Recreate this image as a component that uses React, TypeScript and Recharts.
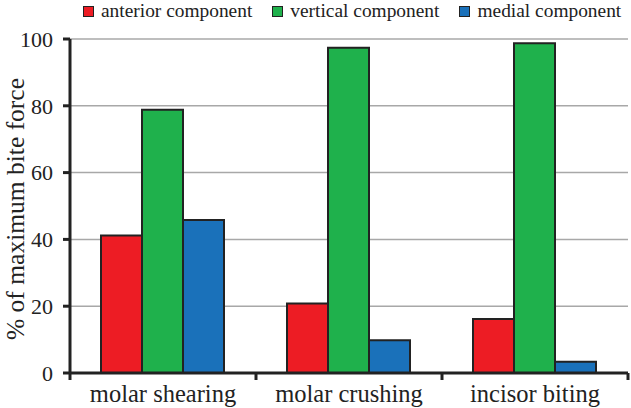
import { Bar, BarChart, CartesianGrid, XAxis, YAxis } from 'recharts';

const categories = ['molar shearing', 'molar crushing', 'incisor biting'];
const anterior = [41.2, 20.8, 16.2];
const vertical = [78.8, 97.4, 98.7];
const medial = [45.8, 9.8, 3.4];
const yTicks = [0, 20, 40, 60, 80, 100];

const SERIES = [
  { key: 'anterior', name: 'anterior component', color: '#ed1c24' },
  { key: 'vertical', name: 'vertical component', color: '#1fb14c' },
  { key: 'medial', name: 'medial component', color: '#1a71ba' },
];

const data = categories.map((name, i) => ({
  name,
  anterior: anterior[i],
  vertical: vertical[i],
  medial: medial[i],
}));

const WIDTH = 631;
const HEIGHT = 408;
const LEFT = 70;
const RIGHT = 3;
const FONT = 'Liberation Serif';
const INK = '#222';
const BAND = (WIDTH - LEFT - RIGHT) / categories.length;

const CategoryTick = (props: any) => {
  const { x, y, payload, index } = props;
  const isLast = index === categories.length - 1;
  return (
    <g>
      <line x1={x - BAND / 2} x2={x - BAND / 2} y1={y} y2={y + 7} stroke={INK} strokeWidth={3} />
      {isLast && (
        <line x1={x + BAND / 2} x2={x + BAND / 2} y1={y} y2={y + 7} stroke={INK} strokeWidth={3} />
      )}
      <text x={x} y={y + 29} textAnchor="middle" fontFamily={FONT} fontSize={24.5} fill={INK}>
        {payload.value}
      </text>
    </g>
  );
};

const YLabel = (props: any) => {
  const { viewBox } = props;
  const cx = 24;
  const cy = viewBox.y + viewBox.height / 2 + 3;
  return (
    <text
      x={cx}
      y={cy}
      transform={`rotate(-90 ${cx} ${cy})`}
      textAnchor="middle"
      fontFamily={FONT}
      fontSize={25.5}
      fill={INK}
    >
      % of maximum bite force
    </text>
  );
};

function LegendRow() {
  return (
    <div
      style={{
        position: 'absolute',
        top: 0,
        left: 83,
        height: 22,
        display: 'flex',
        alignItems: 'center',
        fontFamily: FONT,
        fontSize: 19.4,
        color: INK,
        whiteSpace: 'nowrap',
      }}
    >
      {SERIES.map((s) => (
        <div key={s.key} style={{ display: 'flex', alignItems: 'center', marginRight: 20 }}>
          <div
            style={{
              width: 9,
              height: 9,
              background: s.color,
              border: `1.5px solid ${INK}`,
              marginRight: 7,
            }}
          />
          <span>{s.name}</span>
        </div>
      ))}
    </div>
  );
}

export default function App() {
  return (
    <div style={{ position: 'absolute', left: 0, top: 0, width: WIDTH, height: HEIGHT, background: '#fff' }}>
      <LegendRow />
      <BarChart
        width={WIDTH}
        height={HEIGHT}
        data={data}
        margin={{ top: 39, right: RIGHT, left: 0, bottom: 0 }}
        barCategoryGap={31}
        barGap={0}
      >
        <CartesianGrid vertical={false} stroke="#a8a8a8" strokeWidth={1.5} />
        <XAxis
          dataKey="name"
          height={35}
          axisLine={{ stroke: INK, strokeWidth: 3 }}
          tickLine={false}
          tickSize={0}
          tickMargin={0}
          tick={<CategoryTick />}
          interval={0}
        />
        <YAxis
          width={LEFT}
          domain={[0, 100]}
          ticks={yTicks}
          interval={0}
          axisLine={{ stroke: INK, strokeWidth: 3 }}
          tickLine={{ stroke: INK, strokeWidth: 3 }}
          tickSize={7}
          tickMargin={10}
          tick={{ fontFamily: FONT, fontSize: 22, fill: INK }}
          label={<YLabel />}
        />
        {SERIES.map((s) => (
          <Bar
            key={s.key}
            dataKey={s.key}
            name={s.name}
            fill={s.color}
            stroke={INK}
            strokeWidth={2}
            isAnimationActive={false}
          />
        ))}
      </BarChart>
    </div>
  );
}
